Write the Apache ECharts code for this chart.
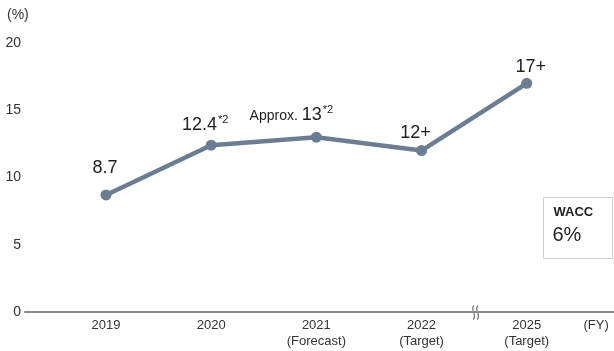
<!DOCTYPE html>
<html><head><meta charset="utf-8">
<script src="https://cdn.jsdelivr.net/npm/echarts@6/dist/echarts.min.js"></script>
<style>html,body{margin:0;padding:0;background:#fff}#c{width:614px;height:351px}</style>
</head><body><div id="c"></div>
<script>
const categories = ['2019', '2020', '2021\n(Forecast)', '2022\n(Target)', '2025\n(Target)'];
const values = [8.7, 12.4, 13, 12, 17];
const valueLabels = ['{v|8.7}', '{v|12.4}{s|*2}', '{p|Approx. }{v|13}{s|*2}', '{v|12+}', '{v|17+}'];
const xUnit = '(FY)';
const yUnit = '(%)';
const waccTitle = 'WACC';
const waccValue = '6%';

const FONT = '"Liberation Sans", Arial, sans-serif';
const labelOffsets = [[-1, -5], [-6, 1], [-25, -1], [-6, 4], [4, 5]];
const unitPos = 4.66;

const chart = echarts.init(document.getElementById('c'), null, {renderer: 'canvas'});
chart.setOption({
  animation: false,
  backgroundColor: '#fff',
  textStyle: {fontFamily: FONT},
  grid: {left: 25, right: 0, top: 43, bottom: 39, containLabel: false},
  xAxis: {
    type: 'value', min: -0.77, max: 4.83,
    axisLine: {show: true, lineStyle: {color: '#8a8a8a', width: 2}},
    axisTick: {show: false},
    splitLine: {show: false},
    axisLabel: {
      customValues: [0, 1, 2, 3, 4, unitPos],
      color: '#333', fontSize: 13, lineHeight: 16, margin: 5, fontFamily: FONT,
      formatter: function (v) {
        if (Math.abs(v - unitPos) < 1e-6) return xUnit;
        const i = Math.round(v);
        return categories[i] || '';
      }
    }
  },
  yAxis: {
    type: 'value', min: 0, max: 20, interval: 5,
    axisLine: {show: false}, axisTick: {show: false}, splitLine: {show: false},
    axisLabel: {color: '#333', fontSize: 14, margin: 4, fontFamily: FONT}
  },
  series: [{
    type: 'line',
    data: values.map((v, i) => ({
      value: [i, v],
      label: {formatter: valueLabels[i], offset: labelOffsets[i]}
    })),
    symbol: 'circle', symbolSize: 11,
    lineStyle: {color: '#6a7d92', width: 4.5},
    itemStyle: {color: '#6a7d92'},
    label: {
      show: true, position: 'top', distance: 7,
      rich: {
        v: {fontSize: 18, color: '#222', fontFamily: FONT, verticalAlign: 'bottom'},
        s: {fontSize: 11, color: '#222', fontFamily: FONT, verticalAlign: 'top', padding: [0, 0, 8, 1]},
        p: {fontSize: 14, color: '#222', fontFamily: FONT, verticalAlign: 'bottom', padding: [0, 0, 1, 0]}
      }
    }
  }],
  graphic: [
    {type: 'text', left: 7, top: 8, style: {text: yUnit, font: '14px ' + FONT, fill: '#333'}},
    {type: 'group', left: 470, top: 303, z: 100, silent: true, children: [
      {type: 'rect', shape: {x: 1, y: 7, width: 10, height: 4}, style: {fill: '#fff'}},
      {type: 'bezierCurve', shape: {x1: 4, y1: 0, x2: 3, y2: 14, cpx1: -1, cpy1: 5, cpx2: 8, cpy2: 9},
       style: {stroke: '#777', lineWidth: 1.2, fill: null}},
      {type: 'bezierCurve', shape: {x1: 8, y1: 0, x2: 7, y2: 14, cpx1: 3, cpy1: 5, cpx2: 12, cpy2: 9},
       style: {stroke: '#777', lineWidth: 1.2, fill: null}}
    ]},
    {type: 'group', left: 543, top: 197, children: [
      {type: 'rect', shape: {x: 0, y: 0, width: 69, height: 61}, style: {fill: '#fff', stroke: '#cccccc', lineWidth: 1}},
      {type: 'text', x: 10, y: 8, style: {text: waccTitle, font: 'bold 13px ' + FONT, fill: '#222'}},
      {type: 'text', x: 9, y: 28, style: {text: waccValue, font: '20px ' + FONT, fill: '#222'}}
    ]}
  ]
});
</script>
</body></html>
